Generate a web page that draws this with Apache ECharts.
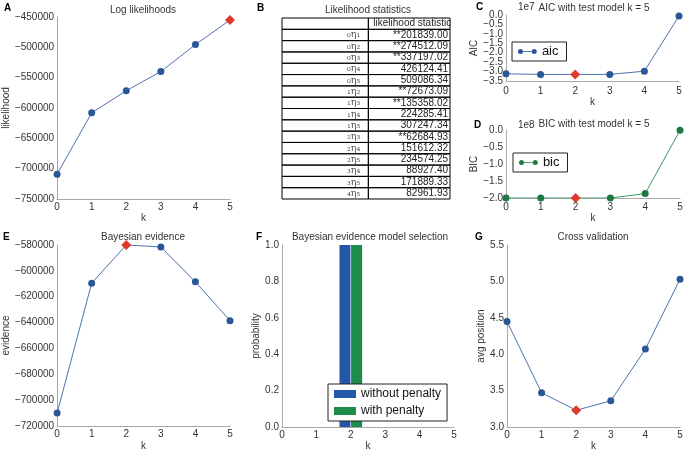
<!DOCTYPE html>
<html><head><meta charset="utf-8">
<script src="https://cdn.jsdelivr.net/npm/echarts@6/dist/echarts.min.js"></script>
<style>html,body{margin:0;padding:0;background:#fff}#c{width:687px;height:454px}</style>
</head><body><div id="c"></div>
<script>
// ---- data ----
const k = [0, 1, 2, 3, 4, 5];
const logLik = [-709000, -608000, -571500, -540000, -495500, -455000];
const aic = [-3.12e7, -3.15e7, -3.15e7, -3.15e7, -2.98e7, -0.05e7];
const bic = [-2.0e8, -2.0e8, -2.0e8, -2.0e8, -1.87e8, -0.01e8];
const evidence = [-710000, -609500, -580000, -581500, -608500, -638500];
const probWithout = [0, 0, 1, 0, 0, 0];
const probWith = [0, 0, 1, 0, 0, 0];
const cv = [4.45, 3.47, 3.23, 3.36, 4.07, 5.03];
const bestLogLik = 5, bestAic = 2, bestBic = 2, bestEvidence = 2, bestCv = 2;
const aicTicks = [0, -0.5e7, -1.0e7, -1.5e7, -2.0e7, -2.5e7, -3.0e7, -3.5e7];
const tableHeader = 'likelihood statistic';
const rowLabels = ['₀η₁','₀η₂','₀η₃','₀η₄','₀η₅','₁η₂','₁η₃','₁η₄','₁η₅','₂η₃','₂η₄','₂η₅','₃η₄','₃η₅','₄η₅'];
const rowValues = ['**201839.00','**274512.09','**337197.02','426124.41','509086.34','**72673.09','**135358.02','224285.41','307247.34','**62684.93','151612.32','234574.25','88927.40','171889.33','82961.93'];

// ---- styles ----
const FONT = '"Liberation Sans", Arial, sans-serif';
const TXT = '#333';
const SPINE = '#a8a8a8';
const BLUE_LINE = '#4c72b0', BLUE_PT = '#2b5797';
const GREEN_LINE = '#3d9a62', GREEN_PT = '#1e7a42';
const RED = '#e2382b';
const minus = v => (v < 0 ? '\u2212' : '') + Math.abs(v);
const fmt1 = s => v => { const t = (v / s).toFixed(1); return v < 0 ? '\u2212' + t.slice(1) : t; };

const grids = [
  {left: 57, top: 17, width: 173, height: 182},   // 0 A
  {left: 506, top: 15, width: 173, height: 66},   // 1 C
  {left: 506, top: 130, width: 174, height: 68},  // 2 D
  {left: 57, top: 245, width: 173, height: 181},  // 3 E
  {left: 282, top: 245, width: 172, height: 182}, // 4 F
  {left: 507, top: 245, width: 173, height: 182}, // 5 G
  {left: 282, top: 18, width: 168, height: 181}   // 6 table B
];

function xAx(g, margin, gap) {
  return {type: 'value', gridIndex: g, min: 0, max: 5, interval: 1,
    axisLine: {show: true, onZero: false, lineStyle: {color: SPINE, width: 1}},
    axisTick: {show: false}, splitLine: {show: false},
    axisLabel: {color: TXT, fontSize: 10, fontFamily: FONT, margin: margin, showMinLabel: true, showMaxLabel: true},
    name: 'k', nameLocation: 'middle', nameGap: gap,
    nameTextStyle: {color: TXT, fontSize: 10, fontFamily: FONT}};
}
function yAx(g, min, max, interval, f, name, gap, hideLabels) {
  return {type: 'value', gridIndex: g, min: min, max: max, interval: interval,
    axisLine: {show: true, onZero: false, lineStyle: {color: SPINE, width: 1}},
    axisTick: {show: false}, splitLine: {show: false},
    axisLabel: {show: !hideLabels, color: TXT, fontSize: 10, fontFamily: FONT, margin: 3, formatter: f,
      showMinLabel: true, showMaxLabel: true},
    name: name, nameLocation: 'middle', nameGap: gap, nameRotate: 90,
    nameTextStyle: {color: TXT, fontSize: 10, fontFamily: FONT}};
}

function pts(vals, best) {
  return k.map((x, i) => i === best
    ? {value: [x, vals[i]], symbol: 'diamond', symbolSize: 10, itemStyle: {color: RED}}
    : [x, vals[i]]);
}
function lineSeries(name, g, vals, best, lc, pc) {
  return {type: 'line', name: name, xAxisIndex: g, yAxisIndex: g, data: pts(vals, best),
    symbol: 'circle', symbolSize: 7, lineStyle: {color: lc, width: 1},
    itemStyle: {color: pc}, z: 3};
}

const xAxes = [xAx(0, 3, 10), xAx(1, 5, 11), xAx(2, 4, 10), xAx(3, 3, 15), xAx(4, 3, 14), xAx(5, 3, 14),
  {type: 'value', gridIndex: 6, min: 0, max: 1, show: false}];
const yAxes = [
  yAx(0, -750000, -450000, 50000, minus, 'likelihood', 43),
  yAx(1, -3.5e7, 0, 0.5e7, fmt1(1e7), 'AIC', 27, true),
  yAx(2, -2.0e8, 0, 0.5e8, fmt1(1e8), 'BIC', 24),
  yAx(3, -720000, -580000, 20000, minus, 'evidence', 43),
  yAx(4, 0, 1, 0.2, v => v.toFixed(1), 'probability', 16),
  yAx(5, 3.0, 5.5, 0.5, v => v.toFixed(1), 'avg position', 18),
  {type: 'category', gridIndex: 6, inverse: true, show: false,
   data: ['header'].concat(rowLabels)}
];

// dense AIC tick labels (the library would otherwise thin them out)
const aicTickSeries = {
  type: 'custom', name: 'aicTicks', xAxisIndex: 1, yAxisIndex: 1, clip: false, silent: true,
  data: aicTicks.map(v => [0, v]),
  renderItem: function (params, api) {
    const p = api.coord([0, api.value(1)]);
    return {type: 'text', style: {text: fmt1(1e7)(api.value(1)), x: p[0] - 3, y: p[1],
      align: 'right', verticalAlign: 'middle', fontSize: 10, fontFamily: FONT, fill: TXT}};
  }
};

const DIV = 0.514;
const tableSeries = {
  type: 'custom', xAxisIndex: 6, yAxisIndex: 6,
  data: ['header'].concat(rowLabels).map((r, i) => [0, i]),
  renderItem: function (params, api) {
    const i = params.dataIndex;
    const c0 = api.coord([0, i]);
    const c1 = api.coord([1, i]);
    const cd = api.coord([DIV, i]);
    const h = api.size([0, 1])[1];
    const top = c0[1] - h / 2;
    const cellStyle = {fill: 'none', stroke: '#000', lineWidth: 1};
    const children = [
      {type: 'rect', shape: {x: c0[0], y: top, width: cd[0] - c0[0], height: h}, style: cellStyle},
      {type: 'rect', shape: {x: cd[0], y: top, width: c1[0] - cd[0], height: h}, style: cellStyle}
    ];
    if (i === 0) {
      children.push({type: 'text', style: {text: tableHeader, x: cd[0] + 5, y: c0[1],
        align: 'left', verticalAlign: 'middle', fontSize: 10, fontFamily: FONT, fill: '#222'}});
    } else {
      children.push({type: 'text', style: {text: rowLabels[i - 1], x: cd[0] - 8, y: c0[1],
        align: 'right', verticalAlign: 'middle', fontSize: 9.5, fontFamily: '"DejaVu Serif", serif', fill: '#555'}});
      children.push({type: 'text', style: {text: rowValues[i - 1], x: c1[0] - 2, y: c0[1],
        align: 'right', verticalAlign: 'middle', fontSize: 10, fontFamily: FONT, fill: '#222'}});
    }
    return {type: 'group', children: children};
  }
};

function txt(x, y, s, opts) {
  return {type: 'text', x: x, y: y, silent: true,
    style: Object.assign({text: s, fill: TXT, fontSize: 10, fontFamily: FONT, align: 'center', verticalAlign: 'middle'}, opts || {})};
}
const bold = {fontWeight: 'bold', fill: '#000', align: 'left'};

const legendIcon = 'path://M0,4a4,4 0 1,0 8,0a4,4 0 1,0 -8,0ZM22,4a4,4 0 1,0 8,0a4,4 0 1,0 -8,0ZM8,3.4L22,3.4L22,4.6L8,4.6Z';
const legBase = {orient: 'vertical', borderColor: '#222', borderWidth: 1, borderRadius: 0,
  backgroundColor: '#fff', textStyle: {color: '#111', fontSize: 12, fontFamily: FONT}, selectedMode: false};

const option = {
  animation: false,
  backgroundColor: '#fff',
  grid: grids,
  xAxis: xAxes,
  yAxis: yAxes,
  legend: [
    Object.assign({}, legBase, {left: 512, top: 42, data: [{name: 'aic', icon: legendIcon}],
      itemWidth: 19, itemHeight: 5, padding: [3, 8, 3, 6], itemGap: 2,
      textStyle: {color: '#111', fontSize: 13, fontFamily: FONT}}),
    Object.assign({}, legBase, {left: 513, top: 153, data: [{name: 'bic', icon: legendIcon}],
      itemWidth: 19, itemHeight: 5, padding: [3, 8, 3, 6], itemGap: 2,
      textStyle: {color: '#111', fontSize: 13, fontFamily: FONT}}),
    Object.assign({}, legBase, {left: 328, top: 384, data: ['without penalty', 'with penalty'],
      icon: 'rect', itemWidth: 22, itemHeight: 8, padding: [4, 6, 4, 6], itemGap: 5})
  ],
  graphic: [
    txt(4, 8, 'A', bold), txt(143, 10, 'Log likelihoods'),
    txt(257, 8, 'B', bold), txt(368, 10, 'Likelihood statistics'),
    txt(476, 7, 'C', bold), txt(594, 8, 'AIC with test model k = 5'), txt(518, 7, '1e7', {align: 'left'}),
    txt(474, 125, 'D', bold), txt(594, 124, 'BIC with test model k = 5'), txt(518, 125, '1e8', {align: 'left'}),
    txt(3, 237, 'E', bold), txt(143, 237, 'Bayesian evidence'),
    txt(256, 237, 'F', bold), txt(370, 237, 'Bayesian evidence model selection'),
    txt(475, 237, 'G', bold), txt(593, 237, 'Cross validation')
  ],
  series: [
    lineSeries('loglik', 0, logLik, bestLogLik, BLUE_LINE, BLUE_PT),
    lineSeries('aic', 1, aic, bestAic, BLUE_LINE, BLUE_PT),
    aicTickSeries,
    lineSeries('bic', 2, bic, bestBic, GREEN_LINE, GREEN_PT),
    lineSeries('evidence', 3, evidence, bestEvidence, BLUE_LINE, BLUE_PT),
    {type: 'bar', name: 'without penalty', xAxisIndex: 4, yAxisIndex: 4,
     data: k.map((x, i) => [x, probWithout[i]]), barWidth: 11, barGap: '6%', itemStyle: {color: '#2457a8'}},
    {type: 'bar', name: 'with penalty', xAxisIndex: 4, yAxisIndex: 4,
     data: k.map((x, i) => [x, probWith[i]]), barWidth: 11, barGap: '6%', itemStyle: {color: '#1c8c4a'}},
    lineSeries('cv', 5, cv, bestCv, BLUE_LINE, BLUE_PT),
    tableSeries
  ]
};
const chart = echarts.init(document.getElementById('c'), null, {renderer: 'canvas'});
chart.setOption(option);
</script></body></html>
